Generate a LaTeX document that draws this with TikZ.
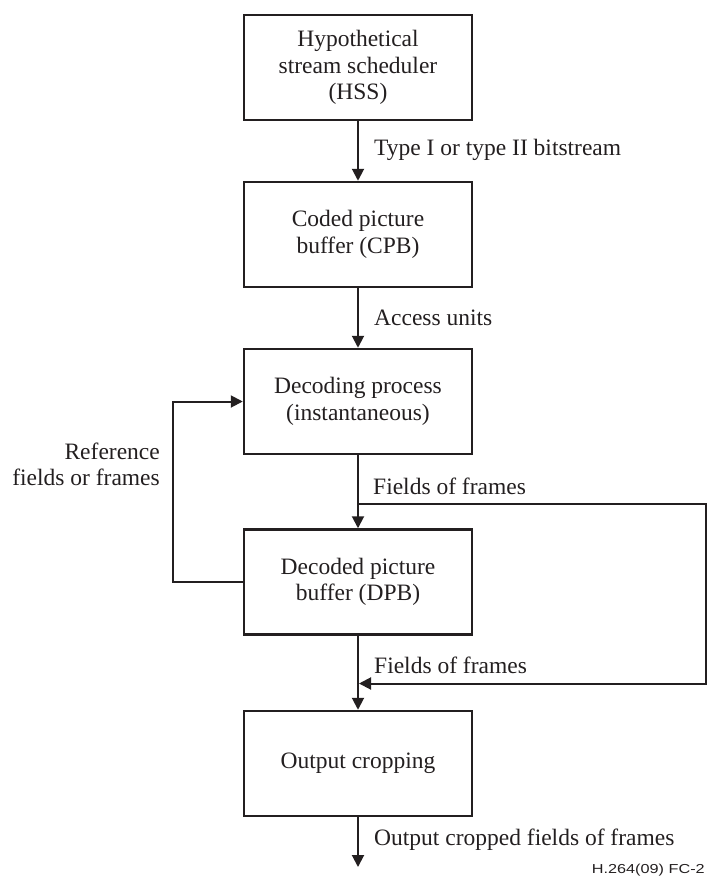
\documentclass[tikz,border=0pt]{standalone}
\usepackage{fontspec}
\setmainfont{Liberation Serif}
\newfontfamily\tagfont{Liberation Sans}
\usetikzlibrary{arrows.meta}
\definecolor{ink}{RGB}{35,31,32}
\begin{document}
\begin{tikzpicture}[x=1pt,y=-1pt,
  box/.style={draw=ink, line width=2.5pt, minimum width=228pt, minimum height=105pt,
    inner sep=0pt, align=center, text=ink, font=\fontsize{23.5}{26.5}\selectfont},
  lbl/.style={anchor=base west, inner sep=0pt, text=ink, font=\fontsize{23.5}{26.5}\selectfont},
  conn/.style={draw=ink, line width=2pt},
  arr/.style={conn, -{Triangle[length=12pt,width=12pt]}}]
\useasboundingbox (0,0) rectangle (707,876);
% boxes
\node[box] (hss) at (358,67.5) {Hypothetical\\stream scheduler\\(HSS)};
\node[box] (cpb) at (358,234.5) {Coded picture\\buffer (CPB)};
\node[box] (dec) at (358,401.5) {Decoding process\\(instantaneous)};
\node[box] (dpb) at (358,582) {Decoded picture\\buffer (DPB)};
\node[box] (crop) at (358,763.5) {Output cropping};
% helper coordinates
\coordinate (br) at (358,504);
\coordinate (rc1) at (706,504);
\coordinate (rc2) at (706,683.5);
\coordinate (mg) at (359,683.5);
\coordinate (fbx) at (172.5,582);
\coordinate (outend) at (358,867);
% connectors
\draw[arr] (hss.south) -- (cpb.north);
\draw[arr] (cpb.south) -- (dec.north);
\draw[arr] (dec.south) -- (dpb.north);
\draw[arr] (dpb.south) -- (crop.north);
\draw[arr] (crop.south) -- (outend);
\draw[arr] (br) -- (rc1) -- (rc2) -- (mg);
\draw[arr] (dpb.west) -- (fbx) |- (dec.west);
% labels
\node[lbl] (l1) at (374,155) {Type I or type II bitstream};
\node[lbl] (l2) at (374,325.7) {Access units};
\node[lbl] (l3) at (373,494) {Fields of frames};
\node[lbl] (l4) at (374,673) {Fields of frames};
\node[lbl] (l5) at (374,845) {Output cropped fields of frames};
\node[anchor=base east, inner sep=0pt, text=ink, align=right,
  font=\fontsize{23.5}{26}\selectfont] (l6) at (160,485.7) {Reference\\fields or frames};
\node[anchor=base east, inner sep=0pt, text=ink, xscale=1.25,
  font=\tagfont\fontsize{13}{13}\selectfont] (tag) at (705,873) {H.264(09) FC-2};
\end{tikzpicture}
\end{document}
